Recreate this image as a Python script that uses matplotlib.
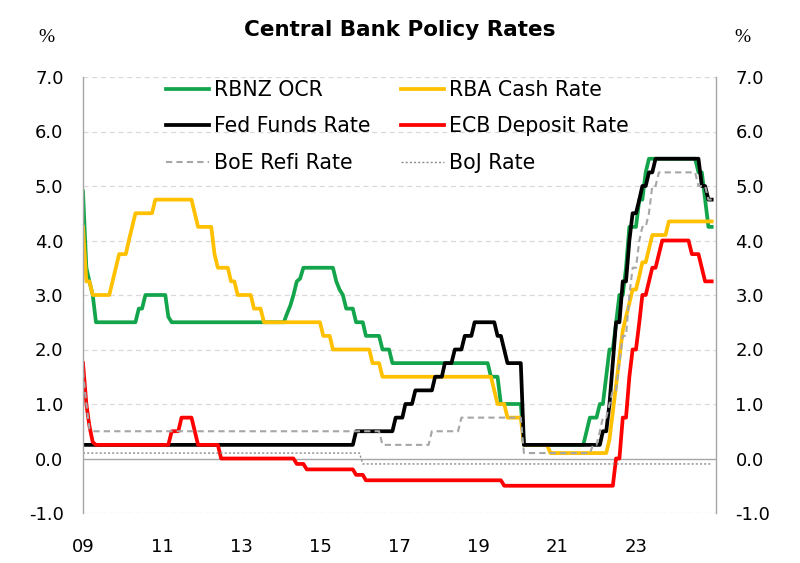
"""Central bank policy rates, monthly, Jan 2009 - Dec 2024."""
import matplotlib
matplotlib.use("Agg")
import matplotlib.pyplot as plt
import pandas as pd

plt.rcParams["font.family"] = ["DejaVu Sans"]

# (month, rate) at each change; rate holds until the next entry
RBNZ = [("2009-01", 4.9), ("2009-02", 3.5), ("2009-03", 3.25), ("2009-04", 3.0),
        ("2009-05", 2.5), ("2010-06", 2.75), ("2010-08", 3.0), ("2011-03", 2.6),
        ("2011-04", 2.5), ("2014-03", 2.65), ("2014-04", 2.8), ("2014-05", 3.0),
        ("2014-06", 3.25), ("2014-07", 3.3), ("2014-08", 3.5), ("2015-06", 3.25),
        ("2015-07", 3.1), ("2015-08", 3.0), ("2015-09", 2.75), ("2015-12", 2.5),
        ("2016-03", 2.25), ("2016-08", 2.0), ("2016-11", 1.75), ("2019-05", 1.5),
        ("2019-08", 1.0), ("2020-03", 0.25), ("2021-10", 0.5), ("2021-11", 0.75),
        ("2022-02", 1.0), ("2022-04", 1.5), ("2022-05", 2.0), ("2022-07", 2.5),
        ("2022-08", 3.0), ("2022-10", 3.5), ("2022-11", 4.25), ("2023-02", 4.75),
        ("2023-04", 5.25), ("2023-05", 5.5), ("2024-08", 5.25), ("2024-10", 4.75),
        ("2024-11", 4.25)]
RBA = [("2009-01", 4.25), ("2009-02", 3.25), ("2009-04", 3.0), ("2009-10", 3.25),
       ("2009-11", 3.5), ("2009-12", 3.75), ("2010-03", 4.0), ("2010-04", 4.25),
       ("2010-05", 4.5), ("2010-11", 4.75), ("2011-11", 4.5), ("2011-12", 4.25),
       ("2012-05", 3.75), ("2012-06", 3.5), ("2012-10", 3.25), ("2012-12", 3.0),
       ("2013-05", 2.75), ("2013-08", 2.5), ("2015-02", 2.25), ("2015-05", 2.0),
       ("2016-05", 1.75), ("2016-08", 1.5), ("2019-06", 1.25), ("2019-07", 1.0),
       ("2019-10", 0.75), ("2020-03", 0.25), ("2020-11", 0.1), ("2022-05", 0.35),
       ("2022-06", 0.85), ("2022-07", 1.35), ("2022-08", 1.85), ("2022-09", 2.35),
       ("2022-10", 2.6), ("2022-11", 2.85), ("2022-12", 3.1), ("2023-02", 3.35),
       ("2023-03", 3.6), ("2023-05", 3.85), ("2023-06", 4.1), ("2023-11", 4.35)]
FED = [("2009-01", 0.25), ("2015-12", 0.5), ("2016-12", 0.75), ("2017-03", 1.0),
       ("2017-06", 1.25), ("2017-12", 1.5), ("2018-03", 1.75), ("2018-06", 2.0),
       ("2018-09", 2.25), ("2018-12", 2.5), ("2019-07", 2.25), ("2019-09", 2.0),
       ("2019-10", 1.75), ("2020-03", 0.25), ("2022-03", 0.5), ("2022-05", 1.0),
       ("2022-06", 1.75), ("2022-07", 2.5), ("2022-09", 3.25), ("2022-11", 4.0),
       ("2022-12", 4.5), ("2023-02", 4.75), ("2023-03", 5.0), ("2023-05", 5.25),
       ("2023-07", 5.5), ("2024-09", 5.0), ("2024-11", 4.75)]
ECB = [("2009-01", 1.75), ("2009-02", 1.0), ("2009-03", 0.6), ("2009-04", 0.3),
       ("2009-05", 0.25), ("2011-04", 0.5), ("2011-07", 0.75), ("2011-11", 0.5),
       ("2011-12", 0.25), ("2012-07", 0.0), ("2014-06", -0.1), ("2014-09", -0.2),
       ("2015-12", -0.3), ("2016-03", -0.4), ("2019-09", -0.5), ("2022-07", 0.0),
       ("2022-09", 0.75), ("2022-11", 1.5), ("2022-12", 2.0), ("2023-02", 2.5),
       ("2023-03", 3.0), ("2023-05", 3.25), ("2023-06", 3.5), ("2023-08", 3.75),
       ("2023-09", 4.0), ("2024-06", 3.75), ("2024-09", 3.5), ("2024-10", 3.25)]
BOE = [("2009-01", 1.6), ("2009-02", 1.0), ("2009-03", 0.55), ("2009-04", 0.5),
       ("2016-08", 0.25), ("2017-11", 0.5), ("2018-08", 0.75), ("2020-03", 0.1),
       ("2021-12", 0.25), ("2022-02", 0.5), ("2022-03", 0.75), ("2022-05", 1.0),
       ("2022-06", 1.25), ("2022-08", 1.75), ("2022-09", 2.25), ("2022-11", 3.0),
       ("2022-12", 3.5), ("2023-02", 4.0), ("2023-03", 4.25), ("2023-05", 4.5),
       ("2023-06", 5.0), ("2023-08", 5.25), ("2024-08", 5.0), ("2024-11", 4.75)]
BOJ = [("2009-01", 0.1), ("2016-02", -0.1)]

TICK_YEARS = [2009, 2011, 2013, 2015, 2017, 2019, 2021, 2023]
TICK_LABELS = ["09", "11", "13", "15", "17", "19", "21", "23"]
Y_TICKS = [-1, 0, 1, 2, 3, 4, 5, 6, 7]

months = pd.date_range("2009-01-01", "2024-12-01", freq="MS")


def monthly(changes):
    s = pd.Series([v for _, v in changes], index=pd.to_datetime([d for d, _ in changes]))
    return s.reindex(months, method="ffill")


fig = plt.figure(figsize=(8, 5.63), dpi=100)
ax = fig.add_axes([83 / 800, 50 / 563, 633 / 800, 436 / 563])

ax.axhline(0, color="#A6A6A6", lw=1.0, zorder=1)
for yv in Y_TICKS:
    if yv != 0:
        ax.axhline(yv, color="#D9D9D9", lw=0.9, ls=(0, (4, 3)), zorder=0)

series = [
    ("RBNZ OCR", RBNZ, dict(color="#13A54B", lw=2.7)),
    ("RBA Cash Rate", RBA, dict(color="#FFC000", lw=2.7)),
    ("Fed Funds Rate", FED, dict(color="black", lw=2.7)),
    ("ECB Deposit Rate", ECB, dict(color="#FF0000", lw=2.7)),
    ("BoE Refi Rate", BOE, dict(color="#A6A6A6", lw=1.5, ls=(0, (3, 2)))),
    ("BoJ Rate", BOJ, dict(color="#8C8C8C", lw=1.0, ls=(0, (1.5, 1.5)))),
]
handles = {}
for name, changes, style in series:
    (ln,) = ax.plot(months, monthly(changes), label=name, zorder=2, **style)
    handles[name] = ln

ax.set_ylim(-1, 7)
ax.set_xlim(pd.Timestamp("2009-01-01"), pd.Timestamp("2025-01-10"))
ax.set_yticks(Y_TICKS)
ax.set_yticklabels([f"{v:.1f}" for v in Y_TICKS])
ax.set_xticks([pd.Timestamp(f"{y}-01-01") for y in TICK_YEARS])
ax.set_xticklabels(TICK_LABELS)
ax.tick_params(axis="y", length=0, labelsize=13, pad=14, labelright=True)
ax.tick_params(axis="x", length=0, labelsize=13, pad=18)
for s in ("top", "bottom"):
    ax.spines[s].set_visible(False)
for s in ("left", "right"):
    ax.spines[s].set_color("#A6A6A6")
    ax.spines[s].set_linewidth(1.0)

order = ["RBNZ OCR", "Fed Funds Rate", "BoE Refi Rate",
         "RBA Cash Rate", "ECB Deposit Rate", "BoJ Rate"]
ax.legend([handles[n] for n in order], order, ncol=2, frameon=False,
          fontsize=14.8, loc="upper left", bbox_to_anchor=(166 / 800, 1 - 80 / 563),
          bbox_transform=fig.transFigure, borderpad=0, borderaxespad=0,
          handlelength=2.1, handletextpad=0.25, columnspacing=1.45, labelspacing=0.8)

fig.text(0.5, 1 - 30 / 563, "Central Bank Policy Rates", ha="center", va="center",
         fontsize=15.5, fontweight="bold")
fig.text(46 / 800, 1 - 38 / 563, "%", ha="center", va="center", fontsize=14,
         family="Liberation Serif")
fig.text(742 / 800, 1 - 38 / 563, "%", ha="center", va="center", fontsize=14,
         family="Liberation Serif")

fig.savefig("out.png", dpi=100)
